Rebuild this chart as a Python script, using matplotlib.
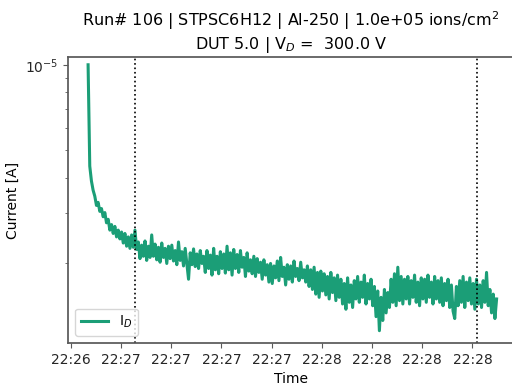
import numpy as np
import pandas as pd
import matplotlib
matplotlib.use("Agg")
import matplotlib.pyplot as plt
import matplotlib.dates as mdates

# drain current readings [x1e-6 A], one every 0.5 s
t_start = "2021-01-01 22:26:50.2"
dt_s = 0.5
current_e6 = [
    10.0, 4.40, 3.90, 3.62, 3.45, 3.20, 3.28, 3.05, 3.12, 2.92,
    3.02, 2.78, 2.86, 2.62, 2.74, 2.55, 2.70, 2.48, 2.62, 2.44,
    2.58, 2.36, 2.55, 2.30, 2.48, 2.26, 2.52, 2.28, 2.62, 2.24,
    2.38, 2.08, 2.32, 2.12, 2.40, 2.05, 2.30, 2.10, 2.52, 2.12,
    2.34, 2.06, 2.28, 2.02, 2.36, 2.10, 2.26, 2.00, 2.30, 2.08,
    2.32, 2.04, 2.22, 1.98, 2.38, 2.05, 2.20, 1.96, 2.26, 2.00,
    1.76, 2.18, 1.98, 2.25, 1.95, 2.16, 1.92, 2.22, 2.00, 2.12,
    1.86, 2.22, 1.92, 2.14, 1.82, 2.26, 1.90, 2.12, 1.84, 2.20,
    1.92, 2.16, 1.85, 2.30, 1.90, 2.18, 1.82, 2.24, 1.92, 2.15,
    1.86, 2.22, 1.94, 2.10, 1.80, 2.18, 1.88, 2.06, 1.84, 2.12,
    1.80, 2.08, 1.86, 2.02, 1.76, 2.06, 1.82, 1.98, 1.72, 2.00,
    1.70, 1.96, 1.78, 2.04, 1.74, 2.10, 1.80, 1.94, 1.68, 1.98,
    1.76, 1.96, 1.72, 2.04, 1.80, 1.92, 1.74, 2.02, 1.78, 1.90,
    1.72, 1.96, 1.66, 1.90, 1.62, 1.94, 1.56, 1.86, 1.52, 1.88,
    1.60, 1.84, 1.55, 1.80, 1.50, 1.86, 1.58, 1.78, 1.48, 1.82,
    1.52, 1.76, 1.44, 1.70, 1.38, 1.78, 1.46, 1.68, 1.40, 1.74,
    1.50, 1.80, 1.46, 1.72, 1.52, 1.82, 1.44, 1.70, 1.50, 1.76,
    1.42, 1.66, 1.30, 1.60, 1.16, 1.52, 1.26, 1.62, 1.34, 1.58,
    1.40, 1.76, 1.46, 1.84, 1.42, 1.94, 1.48, 1.80, 1.44, 1.76,
    1.50, 1.80, 1.44, 1.74, 1.52, 1.82, 1.46, 1.72, 1.42, 1.78,
    1.50, 1.76, 1.46, 1.82, 1.52, 1.72, 1.44, 1.80, 1.50, 1.74,
    1.46, 1.78, 1.42, 1.70, 1.48, 1.76, 1.40, 1.68, 1.36, 1.28,
    1.66, 1.42, 1.74, 1.46, 1.80, 1.40, 1.72, 1.48, 1.78, 1.44,
    1.70, 1.38, 1.76, 1.44, 1.68, 1.40, 1.74, 1.46, 1.86, 1.42,
    1.62, 1.34, 1.56, 1.28, 1.50,
]
markers = ["2021-01-01 22:27:04.2", "2021-01-01 22:28:46.3"]
x_range = ["2021-01-01 22:26:44.2", "2021-01-01 22:28:57.4"]
y_range = [1.05e-6, 1.065e-5]

times = pd.date_range(t_start, periods=len(current_e6), freq=pd.Timedelta(seconds=dt_s))
current = np.array(current_e6) * 1e-6

plt.rcParams["axes.edgecolor"] = "0.35"
plt.rcParams["xtick.color"] = "0.35"
plt.rcParams["ytick.color"] = "0.35"
plt.rcParams["xtick.labelcolor"] = "0.15"
plt.rcParams["ytick.labelcolor"] = "0.15"

fig = plt.figure(figsize=(5.12, 3.9), dpi=100)
ax = fig.add_axes([68/512, 1-343/390, (514-68)/512, (343-57)/390])

ax.plot(times, current, color="#1b9e77", lw=2.2, label="I$_D$")
for m in markers:
    ax.axvline(pd.Timestamp(m), color="k", ls=":", lw=1.2)

ax.set_yscale("log")
ax.set_ylim(y_range)
ax.set_xlim(pd.Timestamp(x_range[0]), pd.Timestamp(x_range[1]))
ax.xaxis.set_major_locator(mdates.SecondLocator(bysecond=[0, 15, 30, 45]))
ax.xaxis.set_major_formatter(mdates.DateFormatter("%H:%M"))

for s in ax.spines.values():
    s.set_linewidth(1.25)
ax.spines["right"].set_visible(False)  # cut off in the original
ax.tick_params(labelsize=10)

ax.set_xlabel("Time", fontsize=10)
ax.set_ylabel("Current [A]", fontsize=10)
ax.set_title("Run# 106 | STPSC6H12 | Al-250 | 1.0e+05 ions/cm$^2$\nDUT 5.0 | V$_D$ =  300.0 V",
             fontsize=11.5)
ax.legend(loc="lower left", fontsize=10)

plt.savefig("out.png", dpi=100)
